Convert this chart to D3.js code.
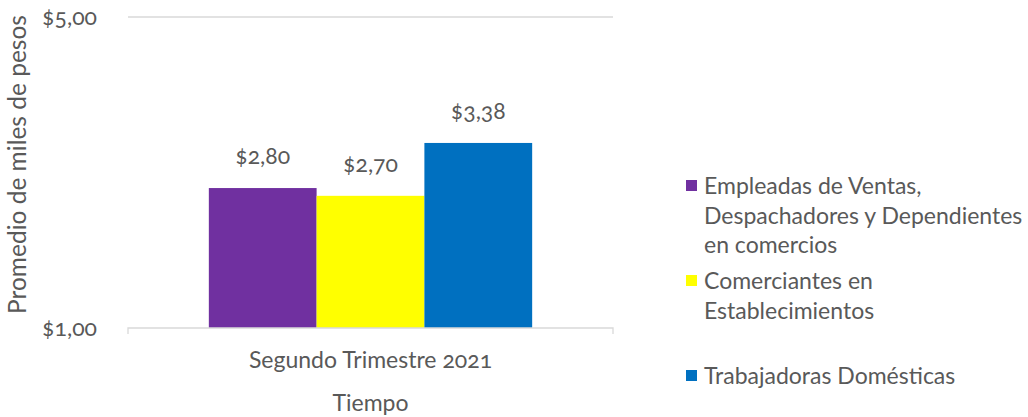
<!DOCTYPE html>
<html>
<head>
<meta charset="utf-8">
<script src="https://cdn.jsdelivr.net/npm/d3@7"></script>
<style>
  body { margin: 0; background: #fff; }
  text { font-family: Lato, "Open Sans", sans-serif; fill: #595959; font-variant-numeric: oldstyle-nums; }
</style>
</head>
<body>
<svg id="chart" width="1028" height="417"></svg>
<script>
const categories = ["Segundo Trimestre 2021"];
const series = ["Empleadas de Ventas, Despachadores y Dependientes en comercios", "Comerciantes en Establecimientos", "Trabajadoras Domésticas"];
const values = [2.80, 2.70, 3.38];
const colors = ["#7030a0", "#ffff00", "#0070c0"];
const legendLines = [["Empleadas de Ventas,", "Despachadores y Dependientes", "en comercios"], ["Comerciantes en", "Establecimientos"], ["Trabajadoras Domésticas"]];
const yTicks = [1, 5];

const svg = d3.select("#chart");
const margin = {left: 128, right: 415, top: 17, bottom: 89};
const w = 1028 - margin.left - margin.right;
const h = 417 - margin.top - margin.bottom;

const fmt = v => "$" + v.toFixed(2).replace(".", ",");

const x = d3.scaleBand().domain(categories).range([0, w]).paddingOuter(0.25).paddingInner(0);
const xs = d3.scaleBand().domain(series).range([0, x.bandwidth()]);
const y = d3.scaleLinear().domain([1, 5]).range([h, 0]);

const g = svg.append("g").attr("transform", `translate(${margin.left},${margin.top})`);

// gridlines
g.selectAll("line.grid")
  .data(yTicks.filter(d => d !== 1))
  .join("line")
    .attr("x1", 0).attr("x2", w)
    .attr("y1", d => y(d)).attr("y2", d => y(d))
    .attr("stroke", "#d9d9d9").attr("stroke-width", 1.3);

// bars
g.selectAll("rect")
  .data(series.map((s, i) => ({s, v: values[i], c: colors[i]})))
  .join("rect")
    .attr("x", d => x(categories[0]) + xs(d.s))
    .attr("y", d => y(d.v))
    .attr("width", xs.bandwidth())
    .attr("height", d => h - y(d.v))
    .attr("fill", d => d.c);

// value labels
g.selectAll("text.val")
  .data(series.map((s, i) => ({s, v: values[i]})))
  .join("text")
    .attr("class", "val")
    .attr("x", d => x(categories[0]) + xs(d.s) + xs.bandwidth() / 2)
    .attr("y", d => y(d.v) - 24)
    .attr("text-anchor", "middle")
    .attr("font-size", 23)
    .text(d => fmt(d.v));

// x axis
const xAxis = g.append("g").attr("transform", `translate(0,${h})`)
  .call(d3.axisBottom(x).tickSize(0).tickPadding(24));
xAxis.select(".domain").remove();
xAxis.append("path")
  .attr("d", `M0,6V0H${w}V6`)
  .attr("fill", "none").attr("stroke", "#d9d9d9").attr("stroke-width", 1.3);
xAxis.selectAll(".tick text").attr("font-size", 23).attr("fill", "#595959")
  .style("font-family", "Lato, 'Open Sans', sans-serif");

// y axis labels
const yAxis = g.append("g").call(d3.axisLeft(y).tickValues(yTicks).tickSize(0).tickPadding(31).tickFormat(fmt));
yAxis.select(".domain").remove();
yAxis.selectAll(".tick text").attr("font-size", 23).attr("fill", "#595959")
  .style("font-family", "Lato, 'Open Sans', sans-serif");

// axis titles
svg.append("text")
  .attr("x", margin.left + w / 2).attr("y", 411)
  .attr("text-anchor", "middle").attr("font-size", 23)
  .text("Tiempo");
svg.append("text")
  .attr("transform", `translate(26,${margin.top + h / 2 - 8}) rotate(-90)`)
  .attr("text-anchor", "middle").attr("font-size", 24.5)
  .text("Promedio de miles de pesos");

// legend
const legendY = [186, 281, 376];
const lg = svg.append("g");
legendLines.forEach((lines, i) => {
  lg.append("rect").attr("x", 686).attr("y", legendY[i] - 6).attr("width", 11).attr("height", 11).attr("fill", colors[i]);
  lines.forEach((t, j) => {
    lg.append("text").attr("x", 704).attr("y", legendY[i] + j * 29.5).attr("dy", "0.35em")
      .attr("font-size", 23).style("font-variant-numeric", "normal").text(t);
  });
});
</script>
</body>
</html>
